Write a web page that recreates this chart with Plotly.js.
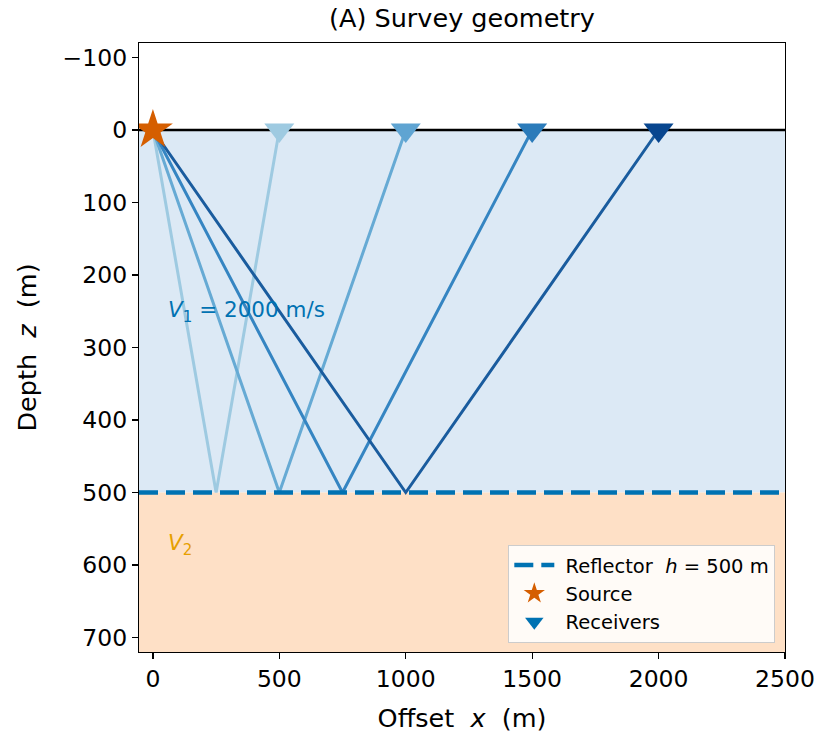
<!DOCTYPE html>
<html>
<head>
<meta charset="utf-8">
<script src="https://cdn.plot.ly/plotly-3.0.1.min.js"></script>
<style>html,body{margin:0;padding:0;background:#fff;}#chart{width:818px;height:733px;}</style>
</head>
<body>
<div id="chart"></div>
<script>
// Data
const reflectorDepth = 500;            // h (m)
const sourceX = [0];
const sourceZ = [0];
const receiverOffsets = [500, 1000, 1500, 2000];
const receiverColors = ['#9ecae1', '#5fa4d2', '#2b7bba', '#08468f'];
const rayColors = ['#9ecae1', '#66aad4', '#3585c2', '#1a5c9e'];
const xRange = [-55, 2500];
const zRange = [720, -120];
const xTicks = [0, 500, 1000, 1500, 2000, 2500];
const zTicks = [-100, 0, 100, 200, 300, 400, 500, 600, 700];
const v1Label = '<i>V</i><sub>1</sub> = 2000 m/s';
const v2Label = '<i>V</i><sub>2</sub>';

const traces = [];
// rays
receiverOffsets.forEach((r, i) => {
  traces.push({
    x: [sourceX[0], r / 2, r],
    y: [sourceZ[0], reflectorDepth, 0],
    mode: 'lines',
    line: {color: rayColors[i], width: 3},
    showlegend: false, hoverinfo: 'skip'
  });
});
// surface line
traces.push({
  x: xRange, y: [0, 0], mode: 'lines',
  line: {color: '#000000', width: 2.5}, showlegend: false, hoverinfo: 'skip'
});
// reflector
traces.push({
  x: xRange, y: [reflectorDepth, reflectorDepth], mode: 'lines',
  line: {color: '#0072B2', width: 4.5, dash: '19px,8px'},
  name: ' Reflector\u00a0\u00a0<i>h</i> = ' + reflectorDepth + ' m'
});
// receivers
receiverOffsets.forEach((r, i) => {
  traces.push({
    x: [r], y: [0], mode: 'markers',
    marker: {symbol: 'triangle-down', size: 26, color: receiverColors[i]},
    showlegend: false, hoverinfo: 'skip'
  });
});
// source
traces.push({
  x: sourceX, y: sourceZ, mode: 'markers',
  marker: {symbol: 'star', size: 30, color: '#D55E00'},
  name: ' Source'
});
// receivers legend proxy
traces.push({
  x: [null], y: [null], mode: 'markers',
  marker: {symbol: 'triangle-down', size: 26, color: '#0072B2'},
  name: ' Receivers'
});

const font = {family: 'DejaVu Sans, sans-serif', color: '#000', size: 20};

const layout = {
  width: 818, height: 733,
  margin: {l: 139, r: 33, t: 43, b: 81},
  paper_bgcolor: '#ffffff', plot_bgcolor: '#ffffff',
  font: font,
  title: {text: '(A) Survey geometry', x: 0.5, xref: 'paper', xanchor: 'center', y: 0.975, yanchor: 'middle', font: {size: 25.5, family: 'DejaVu Sans, sans-serif', color: '#000'}},
  xaxis: {
    range: xRange, tickvals: xTicks, ticktext: xTicks.map(String),
    ticks: 'outside', ticklen: 6, tickwidth: 1.2, tickcolor: '#000',
    showline: true, linecolor: '#000', linewidth: 1.2, mirror: true,
    showgrid: false, zeroline: false,
    tickfont: {size: 23.5},
    title: {text: 'Offset  <i>x</i>  (m)', font: {size: 25.5}, standoff: 16}
  },
  yaxis: {
    range: zRange, tickvals: zTicks, ticktext: zTicks.map(v => v < 0 ? '\u2212' + Math.abs(v) : String(v)),
    ticks: 'outside', ticklen: 6, tickwidth: 1.2, tickcolor: '#000',
    showline: true, linecolor: '#000', linewidth: 1.2, mirror: true,
    showgrid: false, zeroline: false,
    tickfont: {size: 23.5},
    title: {text: 'Depth  <i>z</i>  (m)', font: {size: 25.5}, standoff: 18}
  },
  shapes: [
    {type: 'rect', xref: 'x', yref: 'y', x0: xRange[0], x1: xRange[1], y0: 0, y1: reflectorDepth,
     fillcolor: '#dce9f5', line: {width: 0}, layer: 'below'},
    {type: 'rect', xref: 'x', yref: 'y', x0: xRange[0], x1: xRange[1], y0: reflectorDepth, y1: zRange[0],
     fillcolor: '#fee0c6', line: {width: 0}, layer: 'below'}
  ],
  annotations: [
    {x: 50, y: 250, xref: 'x', yref: 'y', text: v1Label, showarrow: false, xanchor: 'left', yanchor: 'middle',
     font: {size: 21.5, color: '#0072B2'}},
    {x: 50, y: 572, xref: 'x', yref: 'y', text: v2Label, showarrow: false, xanchor: 'left', yanchor: 'middle',
     font: {size: 21.5, color: '#E69F00'}}
  ],
  legend: {
    x: 0.985, y: 0.015, xanchor: 'right', yanchor: 'bottom',
    bgcolor: 'rgba(255,255,255,0.85)', bordercolor: '#cccccc', borderwidth: 1,
    font: {size: 19.5}, itemsizing: 'trace', itemwidth: 40, tracegroupgap: 0
  },
  showlegend: true
};

Plotly.newPlot('chart', traces, layout, {displayModeBar: false, staticPlot: true});
</script>
</body>
</html>
